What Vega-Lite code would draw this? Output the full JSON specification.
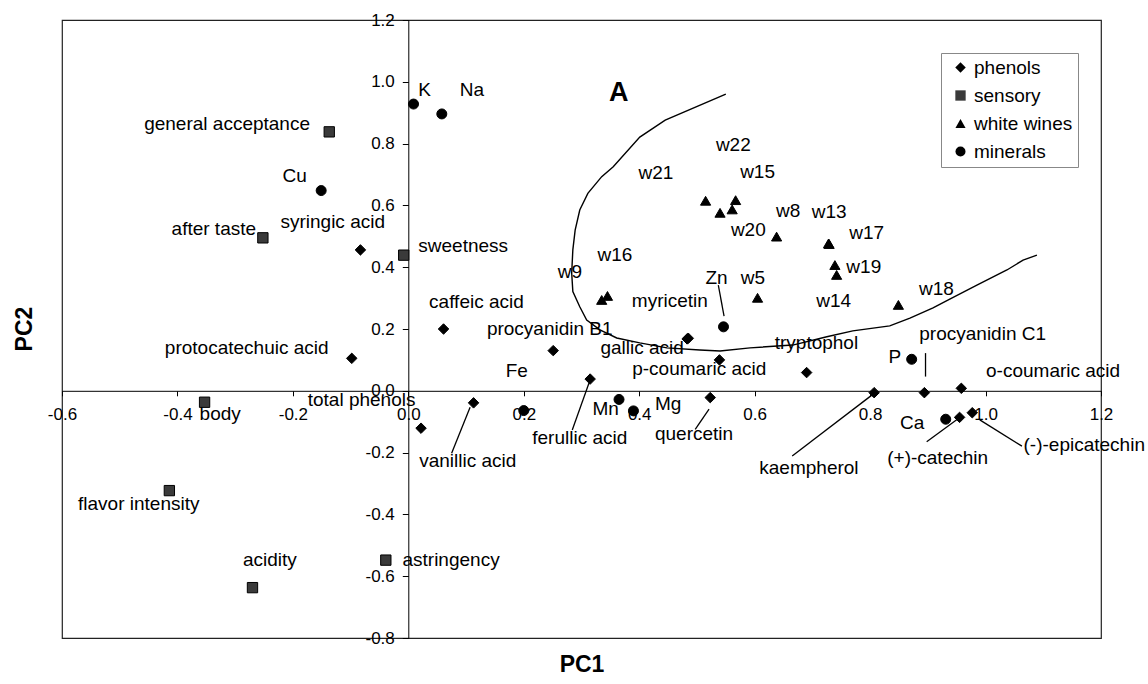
{
  "$schema": "https://vega.github.io/schema/vega-lite/v6.json",
  "width": 1039,
  "height": 618,
  "autosize": {"type": "none"},
  "padding": {"left": 62, "top": 20, "right": 47, "bottom": 46},
  "background": "white",
  "config": {
    "view": {"stroke": "#222", "strokeWidth": 1.2},
    "font": "Liberation Sans",
    "text": {"font": "Liberation Sans", "color": "black"}
  },
  "datasets": {
    "points": [
      {"name": "syringic acid", "group": "phenols", "pc1": -0.083, "pc2": 0.456, "lx": -0.131, "ly": 0.546},
      {"name": "protocatechuic acid", "group": "phenols", "pc1": -0.098, "pc2": 0.105, "lx": -0.280, "ly": 0.137},
      {"name": "caffeic acid", "group": "phenols", "pc1": 0.061, "pc2": 0.200, "lx": 0.118, "ly": 0.288},
      {"name": "procyanidin B1", "group": "phenols", "pc1": 0.251, "pc2": 0.130, "lx": 0.245, "ly": 0.200},
      {"name": "ferullic acid", "group": "phenols", "pc1": 0.315, "pc2": 0.038, "lx": 0.297, "ly": -0.152},
      {"name": "gallic acid", "group": "phenols", "pc1": 0.483, "pc2": 0.168, "lx": 0.405, "ly": 0.140},
      {"name": "myricetin", "group": "phenols", "pc1": 0.485, "pc2": 0.170, "lx": 0.453, "ly": 0.290},
      {"name": "p-coumaric acid", "group": "phenols", "pc1": 0.539, "pc2": 0.100, "lx": 0.504, "ly": 0.072},
      {"name": "quercetin", "group": "phenols", "pc1": 0.523, "pc2": -0.022, "lx": 0.495, "ly": -0.141},
      {"name": "vanillic acid", "group": "phenols", "pc1": 0.113, "pc2": -0.039, "lx": 0.103, "ly": -0.228},
      {"name": "total phenols", "group": "phenols", "pc1": 0.022, "pc2": -0.121, "lx": -0.081, "ly": -0.031},
      {"name": "tryptophol", "group": "phenols", "pc1": 0.690, "pc2": 0.059, "lx": 0.707, "ly": 0.155},
      {"name": "procyanidin C1", "group": "phenols", "pc1": 0.894, "pc2": -0.006, "lx": 0.995, "ly": 0.184},
      {"name": "kaempherol", "group": "phenols", "pc1": 0.807, "pc2": -0.006, "lx": 0.694, "ly": -0.251},
      {"name": "o-coumaric acid", "group": "phenols", "pc1": 0.958, "pc2": 0.008, "lx": 1.117, "ly": 0.063},
      {"name": "(+)-catechin", "group": "phenols", "pc1": 0.955, "pc2": -0.086, "lx": 0.917, "ly": -0.217},
      {"name": "(-)-epicatechin", "group": "phenols", "pc1": 0.977, "pc2": -0.071, "lx": 1.171, "ly": -0.174},
      {"name": "general acceptance", "group": "sensory", "pc1": -0.137, "pc2": 0.838, "lx": -0.314, "ly": 0.862},
      {"name": "after taste", "group": "sensory", "pc1": -0.252, "pc2": 0.495, "lx": -0.337, "ly": 0.525},
      {"name": "sweetness", "group": "sensory", "pc1": -0.008, "pc2": 0.439, "lx": 0.095, "ly": 0.468},
      {"name": "body", "group": "sensory", "pc1": -0.353, "pc2": -0.037, "lx": -0.326, "ly": -0.074},
      {"name": "flavor intensity", "group": "sensory", "pc1": -0.414, "pc2": -0.323, "lx": -0.467, "ly": -0.366},
      {"name": "acidity", "group": "sensory", "pc1": -0.270, "pc2": -0.637, "lx": -0.240, "ly": -0.546},
      {"name": "astringency", "group": "sensory", "pc1": -0.039, "pc2": -0.548, "lx": 0.074, "ly": -0.548},
      {"name": "w21", "group": "white wines", "pc1": 0.515, "pc2": 0.615, "lx": 0.429, "ly": 0.706},
      {"name": "w20", "group": "white wines", "pc1": 0.540, "pc2": 0.576, "lx": 0.589, "ly": 0.522},
      {"name": "w22", "group": "white wines", "pc1": 0.567, "pc2": 0.617, "lx": 0.563, "ly": 0.794},
      {"name": "w15", "group": "white wines", "pc1": 0.561, "pc2": 0.587, "lx": 0.605, "ly": 0.707},
      {"name": "w9", "group": "white wines", "pc1": 0.335, "pc2": 0.294, "lx": 0.280, "ly": 0.384},
      {"name": "w16", "group": "white wines", "pc1": 0.345, "pc2": 0.307, "lx": 0.358, "ly": 0.438},
      {"name": "w5", "group": "white wines", "pc1": 0.605, "pc2": 0.301, "lx": 0.597, "ly": 0.366},
      {"name": "w8", "group": "white wines", "pc1": 0.638, "pc2": 0.499, "lx": 0.658, "ly": 0.581},
      {"name": "w13", "group": "white wines", "pc1": 0.728, "pc2": 0.477, "lx": 0.729, "ly": 0.578},
      {"name": "w17", "group": "white wines", "pc1": 0.729, "pc2": 0.475, "lx": 0.794, "ly": 0.511},
      {"name": "w19", "group": "white wines", "pc1": 0.739, "pc2": 0.407, "lx": 0.789, "ly": 0.400},
      {"name": "w14", "group": "white wines", "pc1": 0.742, "pc2": 0.375, "lx": 0.737, "ly": 0.289},
      {"name": "w18", "group": "white wines", "pc1": 0.849, "pc2": 0.278, "lx": 0.915, "ly": 0.328},
      {"name": "K", "group": "minerals", "pc1": 0.009, "pc2": 0.928, "lx": 0.028, "ly": 0.973},
      {"name": "Na", "group": "minerals", "pc1": 0.058, "pc2": 0.896, "lx": 0.110, "ly": 0.973},
      {"name": "Cu", "group": "minerals", "pc1": -0.151, "pc2": 0.648, "lx": -0.197, "ly": 0.694},
      {"name": "Zn", "group": "minerals", "pc1": 0.546, "pc2": 0.207, "lx": 0.534, "ly": 0.365},
      {"name": "Fe", "group": "minerals", "pc1": 0.200, "pc2": -0.064, "lx": 0.188, "ly": 0.065},
      {"name": "Mn", "group": "minerals", "pc1": 0.365, "pc2": -0.028, "lx": 0.342, "ly": -0.058},
      {"name": "Mg", "group": "minerals", "pc1": 0.390, "pc2": -0.065, "lx": 0.450, "ly": -0.043},
      {"name": "P", "group": "minerals", "pc1": 0.872, "pc2": 0.102, "lx": 0.843, "ly": 0.109},
      {"name": "Ca", "group": "minerals", "pc1": 0.931, "pc2": -0.092, "lx": 0.873, "ly": -0.104}
    ],
    "leaders": [
      {"name": "ferullic acid", "pc1": 0.313, "pc2": 0.025, "pc1b": 0.284, "pc2b": -0.127},
      {"name": "quercetin", "pc1": 0.521, "pc2": -0.059, "pc1b": 0.497, "pc2b": -0.125},
      {"name": "vanillic acid", "pc1": 0.107, "pc2": -0.053, "pc1b": 0.075, "pc2b": -0.202},
      {"name": "Zn", "pc1": 0.537, "pc2": 0.342, "pc1b": 0.547, "pc2b": 0.242},
      {"name": "procyanidin C1", "pc1": 0.896, "pc2": 0.122, "pc1b": 0.896, "pc2b": 0.046},
      {"name": "kaempherol", "pc1": 0.803, "pc2": -0.014, "pc1b": 0.665, "pc2b": -0.211},
      {"name": "(+)-catechin", "pc1": 0.950, "pc2": -0.094, "pc1b": 0.898, "pc2b": -0.165},
      {"name": "(-)-epicatechin", "pc1": 0.990, "pc2": -0.094, "pc1b": 1.063, "pc2b": -0.179}
    ],
    "curve": [
      {"i": 1, "pc1": 0.550, "pc2": 0.960},
      {"i": 2, "pc1": 0.445, "pc2": 0.876},
      {"i": 3, "pc1": 0.401, "pc2": 0.821},
      {"i": 4, "pc1": 0.355, "pc2": 0.725},
      {"i": 5, "pc1": 0.335, "pc2": 0.693},
      {"i": 6, "pc1": 0.311, "pc2": 0.639},
      {"i": 7, "pc1": 0.297, "pc2": 0.585},
      {"i": 8, "pc1": 0.289, "pc2": 0.520},
      {"i": 9, "pc1": 0.285, "pc2": 0.456},
      {"i": 10, "pc1": 0.283, "pc2": 0.381},
      {"i": 11, "pc1": 0.285, "pc2": 0.321},
      {"i": 12, "pc1": 0.297, "pc2": 0.272},
      {"i": 13, "pc1": 0.309, "pc2": 0.229},
      {"i": 14, "pc1": 0.332, "pc2": 0.197},
      {"i": 15, "pc1": 0.361, "pc2": 0.171},
      {"i": 16, "pc1": 0.401, "pc2": 0.155},
      {"i": 17, "pc1": 0.448, "pc2": 0.139},
      {"i": 18, "pc1": 0.505, "pc2": 0.132},
      {"i": 19, "pc1": 0.540, "pc2": 0.129},
      {"i": 20, "pc1": 0.592, "pc2": 0.139},
      {"i": 21, "pc1": 0.666, "pc2": 0.148},
      {"i": 22, "pc1": 0.725, "pc2": 0.175},
      {"i": 23, "pc1": 0.770, "pc2": 0.194},
      {"i": 24, "pc1": 0.834, "pc2": 0.210},
      {"i": 25, "pc1": 0.869, "pc2": 0.235},
      {"i": 26, "pc1": 0.909, "pc2": 0.268},
      {"i": 27, "pc1": 0.938, "pc2": 0.297},
      {"i": 28, "pc1": 0.985, "pc2": 0.342},
      {"i": 29, "pc1": 1.037, "pc2": 0.391},
      {"i": 30, "pc1": 1.065, "pc2": 0.423},
      {"i": 31, "pc1": 1.089, "pc2": 0.439}
    ],
    "annot": [
      {"text": "A", "pc1": 0.3645, "pc2": 0.965}
    ]
  },
  "layer": [
    {
      "data": {"name": "points"},
      "mark": {"type": "point", "filled": true, "opacity": 1, "stroke": "black", "strokeWidth": 1},
      "encoding": {
        "x": {
          "field": "pc1", "type": "quantitative", "title": "PC1",
          "scale": {"domain": [-0.6, 1.2], "nice": false, "zero": false},
          "axis": {
            "orient": "bottom", "offset": -247.2,
            "values": [-0.6, -0.4, -0.2, 0, 0.2, 0.4, 0.6, 0.8, 1.0, 1.2],
            "labelExpr": "replace(format(datum.value, '.1f'), '−', '-')",
            "labelFont": "Liberation Sans", "labelFontSize": 17, "labelColor": "black",
            "labelPadding": 11, "labelFlush": false, "labelOverlap": false,
            "tickSize": 5, "tickColor": "black", "domainColor": "black", "grid": false,
            "titleFont": "Liberation Sans", "titleFontSize": 23, "titleFontWeight": "bold", "titleColor": "black",
            "titleX": 519.5, "titleY": 273.7, "titleBaseline": "middle", "titleAlign": "center"
          }
        },
        "y": {
          "field": "pc2", "type": "quantitative", "title": "PC2",
          "scale": {"domain": [-0.8, 1.2], "nice": false, "zero": false},
          "axis": {
            "orient": "left", "offset": -346.3,
            "values": [-0.8, -0.6, -0.4, -0.2, 0, 0.2, 0.4, 0.6, 0.8, 1.0, 1.2],
            "labelExpr": "replace(format(datum.value, '.1f'), '−', '-')",
            "labelFont": "Liberation Sans", "labelFontSize": 17, "labelColor": "black",
            "labelPadding": 8, "labelFlush": false, "labelOverlap": false,
            "tickSize": 6, "tickColor": "black", "domainColor": "black", "grid": false,
            "titleFont": "Liberation Sans", "titleFontSize": 23, "titleFontWeight": "bold", "titleColor": "black",
            "titleX": -384, "titleY": 308.5, "titleAngle": -90, "titleBaseline": "middle", "titleAlign": "center"
          }
        },
        "shape": {
          "field": "group", "type": "nominal", "title": null,
          "scale": {"domain": ["phenols", "sensory", "white wines", "minerals"], "range": ["diamond", "square", "triangle-up", "circle"]},
          "legend": {
            "orient": "none", "legendX": 879, "legendY": 33, "title": null,
            "strokeColor": "#888", "fillColor": "white", "padding": 5,
            "labelFont": "Liberation Sans", "labelFontSize": 19, "labelColor": "black",
            "symbolSize": 130, "rowPadding": 8, "symbolOffset": 5, "labelOffset": 4,
            "symbolStrokeWidth": 0
          }
        },
        "color": {
          "field": "group", "type": "nominal", "title": null,
          "scale": {"domain": ["phenols", "sensory", "white wines", "minerals"], "range": ["#000000", "#3a3a3a", "#000000", "#000000"]},
          "legend": {
            "orient": "none", "legendX": 879, "legendY": 33, "title": null,
            "strokeColor": "#888", "fillColor": "white", "padding": 5,
            "labelFont": "Liberation Sans", "labelFontSize": 19, "labelColor": "black",
            "symbolSize": 130, "rowPadding": 8, "symbolOffset": 5, "labelOffset": 4,
            "symbolStrokeWidth": 0
          }
        },
        "size": {
          "field": "group", "type": "nominal", "legend": null,
          "scale": {"domain": ["phenols", "sensory", "white wines", "minerals"], "range": [110, 100, 200, 170]}
        }
      }
    },
    {
      "data": {"name": "curve"},
      "mark": {"type": "line", "color": "black", "strokeWidth": 1.4, "interpolate": "linear"},
      "encoding": {
        "x": {"field": "pc1", "type": "quantitative", "title": "PC1"},
        "y": {"field": "pc2", "type": "quantitative", "title": "PC2"},
        "order": {"field": "i", "type": "quantitative"}
      }
    },
    {
      "data": {"name": "leaders"},
      "mark": {"type": "rule", "color": "black", "strokeWidth": 1.3},
      "encoding": {
        "x": {"field": "pc1", "type": "quantitative", "title": "PC1"},
        "y": {"field": "pc2", "type": "quantitative", "title": "PC2"},
        "x2": {"field": "pc1b"},
        "y2": {"field": "pc2b"}
      }
    },
    {
      "data": {"name": "points"},
      "mark": {"type": "text", "align": "center", "baseline": "middle", "font": "Liberation Sans", "fontSize": 19, "color": "black"},
      "encoding": {
        "x": {"field": "lx", "type": "quantitative", "title": "PC1"},
        "y": {"field": "ly", "type": "quantitative", "title": "PC2"},
        "text": {"field": "name", "type": "nominal"}
      }
    },
    {
      "data": {"name": "annot"},
      "mark": {"type": "text", "align": "center", "baseline": "middle", "font": "Liberation Sans", "fontSize": 27, "fontWeight": "bold", "color": "black"},
      "encoding": {
        "x": {"field": "pc1", "type": "quantitative", "title": "PC1"},
        "y": {"field": "pc2", "type": "quantitative", "title": "PC2"},
        "text": {"field": "text", "type": "nominal"}
      }
    }
  ]
}
